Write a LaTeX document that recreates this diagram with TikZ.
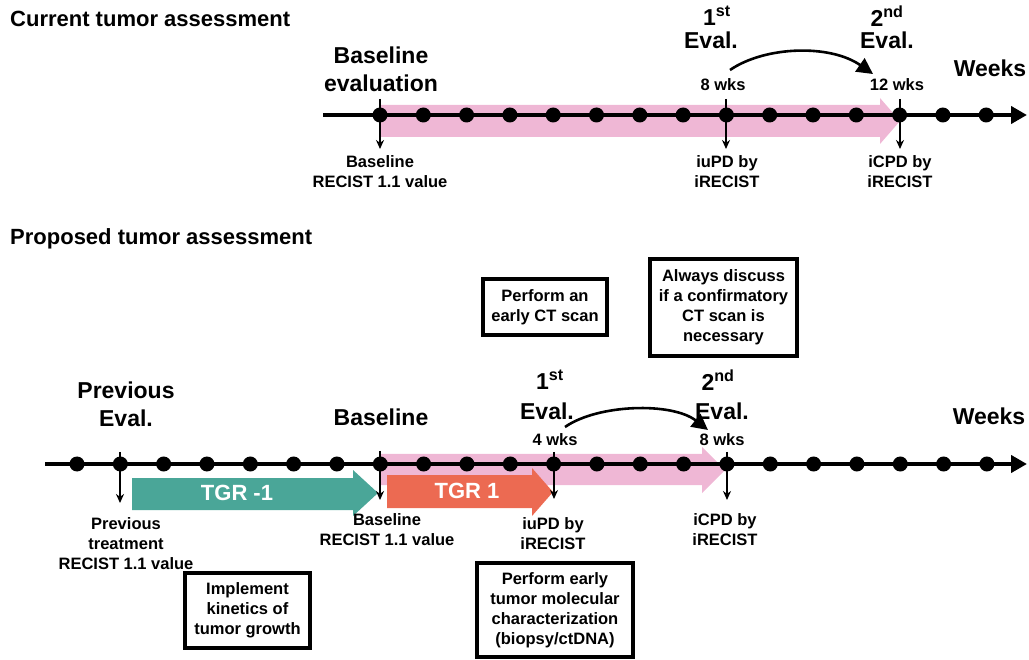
\documentclass[tikz,border=0pt]{standalone}
\usepackage{fontspec}
\setmainfont{Liberation Sans}
\usetikzlibrary{arrows.meta}
\definecolor{pinkA}{RGB}{239,183,213}
\definecolor{tealA}{RGB}{74,166,152}
\definecolor{redA}{RGB}{236,106,82}
\begin{document}
\begin{tikzpicture}[x=1pt,y=-1pt,
  big/.style={font=\bfseries\fontsize{23}{28}\selectfont, align=center, inner sep=0pt},
  small/.style={font=\bfseries\fontsize{16.5}{20}\selectfont, align=center, inner sep=0pt},
  ttl/.style={font=\bfseries\fontsize{22}{26}\selectfont, anchor=west, inner sep=0pt},
  dot/.style={circle, fill=black, minimum size=15pt, inner sep=0pt},
  axis/.style={line width=4.2pt, -{Triangle[length=16pt,width=17pt]}},
  tick/.style={line width=1.5pt, -{Stealth[length=9pt,width=8pt]}},
  jump/.style={line width=2.6pt, -{Triangle[length=16pt,width=16pt]}},
  note/.style={draw, line width=3.5pt, fill=white, align=center, inner sep=0pt, font=\bfseries\fontsize{16.5}{20}\selectfont},
  tgr/.style={font=\bfseries\fontsize{22}{26}\selectfont, text=white, inner sep=0pt},
]
\path[use as bounding box] (0,0) rectangle (1029,660);

% ---------------- Top section ----------------
\node[ttl] (title1) at (10,19) {Current tumor assessment};

\fill[pinkA] (380,105) -- (880,105) -- (880,98) -- (900,121) -- (880,144) -- (880,137) -- (380,137) -- cycle;
\coordinate (ts) at (323,115);
\coordinate (te) at (1027,115);
\draw[axis] (ts) -- (te);
\foreach \k in {0,...,14} \node[dot] (t\k) at ({380+43.3*\k},115) {};

\coordinate (ta0) at (380,99);  \coordinate (tb0) at (380,149);
\coordinate (ta8) at (726,99);  \coordinate (tb8) at (726,149);
\coordinate (ta12) at (900,99); \coordinate (tb12) at (900,149);
\draw[tick] (ta0) -- (tb0);
\draw[tick] (ta8) -- (tb8);
\draw[tick] (ta12) -- (tb12);

\node[big] (tbase) at (381,69) {Baseline\\evaluation};
\node[big] (t1st) at (717,16) {1\textsuperscript{st}};
\node[big] (t1ev) at (711,40) {Eval.};
\node[big] (t2nd) at (887,16) {2\textsuperscript{nd}};
\node[big] (t2ev) at (887,40) {Eval.};
\node[big] (tweeks) at (990,68) {Weeks};
\node[small] (t8w) at (723,85) {8 wks};
\node[small] (t12w) at (897,85) {12 wks};

\coordinate (tj1) at (730,70);
\coordinate (tj2) at (873,74);
\draw[jump] (tj1) .. controls (765,46) and (830,44) .. (tj2);

\node[small] (tl0) at (380,172) {Baseline\\RECIST 1.1 value};
\node[small] (tl8) at (727,172) {iuPD by\\iRECIST};
\node[small] (tl12) at (900,172) {iCPD by\\iRECIST};

% ---------------- Bottom section ----------------
\node[ttl] (title2) at (10,239) {Proposed tumor assessment};

\node[note, minimum width=124pt, minimum height=56pt] (box1) at (545,307) {Perform an\\early CT scan};
\node[note, minimum width=147pt, minimum height=97pt] (box2) at (723.5,307.5) {Always discuss\\if a confirmatory\\CT scan is\\necessary};

\fill[pinkA] (380,454) -- (702,454) -- (702,447) -- (725,470) -- (702,493) -- (702,485) -- (380,485) -- cycle;
\coordinate (bs) at (45,464);
\coordinate (be) at (1027,464);
\draw[axis] (bs) -- (be);
\foreach \k in {0,...,21} \node[dot] (b\k) at ({77+43.33*\k},464) {};

\fill[tealA] (132,478) -- (353,478) -- (353,470) -- (378,493) -- (353,516) -- (353,510) -- (132,510) -- cycle;
\fill[redA] (387,475) -- (532,475) -- (532,468) -- (553,492) -- (532,516) -- (532,508) -- (387,508) -- cycle;
\node[tgr] (tgrm) at (237,493) {TGR -1};
\node[tgr] (tgrp) at (467,491) {TGR 1};

\coordinate (ba1) at (120,452);  \coordinate (bb1) at (120,503);
\coordinate (ba7) at (380,451);  \coordinate (bb7) at (380,500);
\coordinate (ba11) at (554,452); \coordinate (bb11) at (554,499);
\coordinate (ba15) at (727,452); \coordinate (bb15) at (727,500);
\draw[tick] (ba1) -- (bb1);
\draw[tick] (ba7) -- (bb7);
\draw[tick] (ba11) -- (bb11);
\draw[tick] (ba15) -- (bb15);

\node[big] (bprev) at (126,404) {Previous\\Eval.};
\node[big] (bbase) at (381,417) {Baseline};
\node[big] (b1st) at (550,380) {1\textsuperscript{st}};
\node[big] (b1ev) at (547,411) {Eval.};
\node[big] (b2nd) at (718,380) {2\textsuperscript{nd}};
\node[big] (b2ev) at (722,411) {Eval.};
\node[big] (bweeks) at (989,416) {Weeks};
\node[small] (b4w) at (555,440) {4 wks};
\node[small] (b8w) at (722,440) {8 wks};

\coordinate (bj1) at (565,427);
\coordinate (bj2) at (708,430);
\draw[jump] (bj1) .. controls (598,404) and (672,402) .. (bj2);

\node[small] (bl1) at (126,544) {Previous\\treatment\\RECIST 1.1 value};
\node[small] (bl7) at (387,530) {Baseline\\RECIST 1.1 value};
\node[small] (bl11) at (553,534) {iuPD by\\iRECIST};
\node[small] (bl15) at (725,530) {iCPD by\\iRECIST};

\node[note, minimum width=125pt, minimum height=75pt] (box3) at (247.5,610.5) {Implement\\kinetics of\\tumor growth};
\node[note, minimum width=156pt, minimum height=94pt] (box4) at (555,610) {Perform early\\tumor molecular\\characterization\\(biopsy/ctDNA)};
\end{tikzpicture}
\end{document}
